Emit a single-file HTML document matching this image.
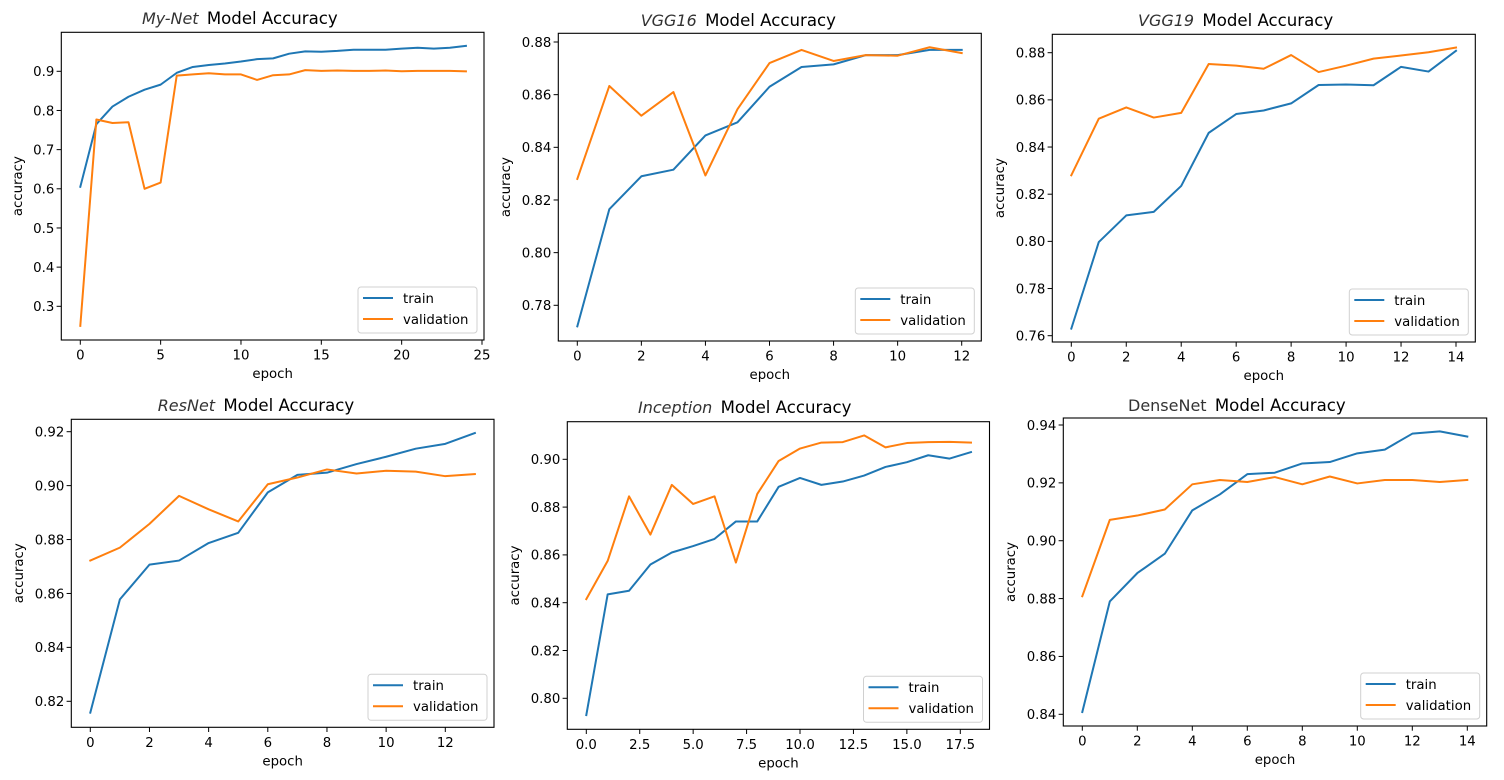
<!DOCTYPE html>
<html><head><meta charset="utf-8"><style>
html,body{margin:0;padding:0;background:#fff;}
svg{display:block;font-family:"DejaVu Sans","Liberation Sans",sans-serif;}
</style></head><body>
<svg id="fig" width="1504" height="780" viewBox="0 0 1504 780" xmlns="http://www.w3.org/2000/svg"></svg>
<script>
// ---- data ----
const mynetTrain=[0.605,0.765,0.81,0.835,0.853,0.866,0.896,0.911,0.916,0.920,0.925,0.931,0.933,0.945,0.951,0.950,0.952,0.955,0.955,0.955,0.958,0.960,0.958,0.960,0.965];
const mynetVal=[0.25,0.777,0.768,0.770,0.600,0.616,0.889,0.892,0.895,0.892,0.892,0.878,0.890,0.892,0.903,0.901,0.902,0.901,0.901,0.902,0.900,0.901,0.901,0.901,0.900];
const vgg16Train=[0.772,0.8165,0.829,0.8315,0.8445,0.8495,0.863,0.8705,0.8715,0.875,0.875,0.877,0.877];
const vgg16Val=[0.828,0.8633,0.852,0.861,0.8293,0.8545,0.872,0.877,0.8728,0.875,0.8748,0.878,0.8758];
const vgg19Train=[0.763,0.7997,0.811,0.8125,0.8235,0.846,0.854,0.8555,0.8585,0.8663,0.8665,0.8662,0.874,0.872,0.8808];
const vgg19Val=[0.828,0.852,0.8568,0.8525,0.8545,0.8752,0.8745,0.8732,0.879,0.8718,0.8745,0.8775,0.8788,0.8802,0.8822];
const resnetTrain=[0.8158,0.8578,0.8707,0.8722,0.8787,0.8825,0.8975,0.904,0.9048,0.908,0.9107,0.9137,0.9155,0.9195];
const resnetVal=[0.8722,0.877,0.8858,0.8962,0.8912,0.8867,0.9005,0.903,0.906,0.9045,0.9055,0.9052,0.9035,0.9043];
const inceptionTrain=[0.793,0.8435,0.845,0.856,0.861,0.8637,0.8667,0.874,0.874,0.8885,0.8922,0.8893,0.8907,0.8932,0.8968,0.8988,0.9017,0.9003,0.903];
const inceptionVal=[0.8415,0.8575,0.8845,0.8685,0.8893,0.8813,0.8845,0.8568,0.8855,0.8993,0.9045,0.907,0.9072,0.910,0.905,0.9068,0.9072,0.9073,0.907];
const densenetTrain=[0.8408,0.879,0.8888,0.8955,0.9105,0.916,0.923,0.9235,0.9267,0.9272,0.9302,0.9315,0.937,0.9378,0.936];
const densenetVal=[0.8808,0.9072,0.9087,0.9108,0.9195,0.921,0.9203,0.922,0.9195,0.9222,0.9198,0.921,0.921,0.9203,0.921];
const modelNames=["My-Net","VGG16","VGG19","ResNet","Inception","DenseNet"];
const mynetYTicks=[0.3,0.4,0.5,0.6,0.7,0.8,0.9];
const mynetXTicks=[0,5,10,15,20,25];
const vgg16YTicks=[0.78,0.80,0.82,0.84,0.86,0.88];
const vgg16XTicks=[0,2,4,6,8,10,12];
const vgg19YTicks=[0.76,0.78,0.80,0.82,0.84,0.86,0.88];
const vgg19XTicks=[0,2,4,6,8,10,12,14];
const resnetYTicks=[0.82,0.84,0.86,0.88,0.90,0.92];
const resnetXTicks=[0,2,4,6,8,10,12];
const inceptionYTicks=[0.80,0.82,0.84,0.86,0.88,0.90];
const inceptionXTicks=[0,2.5,5,7.5,10,12.5,15,17.5];
const densenetYTicks=[0.84,0.86,0.88,0.90,0.92,0.94];
const densenetXTicks=[0,2,4,6,8,10,12,14];

const NS="http://www.w3.org/2000/svg";
const svg=document.getElementById('fig');
function mk(tag,attrs,parent){const e=document.createElementNS(NS,tag);for(const k in attrs)e.setAttribute(k,attrs[k]);(parent||svg).appendChild(e);return e;}

const panels=[
 {key:"mynet",name:modelNames[0],train:mynetTrain,val:mynetVal,yt:mynetYTicks,xt:mynetXTicks,yd:1,xd:0,
  L:61.3,R:484,T:32.3,B:340,xa:[0,25],xp:[80.3,482],ya:[0.9,0.3],yp:[71.3,306.3],tx:142,ty:24,ylx:17},
 {key:"vgg16",name:modelNames[1],train:vgg16Train,val:vgg16Val,yt:vgg16YTicks,xt:vgg16XTicks,yd:2,xd:0,
  L:558.3,R:981.3,T:33.3,B:341,xa:[0,12],xp:[577.3,961.7],ya:[0.88,0.78],yp:[42,305.3],tx:640.7,ty:26,ylx:505},
 {key:"vgg19",name:modelNames[2],train:vgg19Train,val:vgg19Val,yt:vgg19YTicks,xt:vgg19XTicks,yd:2,xd:0,
  L:1052.3,R:1475.3,T:34.3,B:342,xa:[0,14],xp:[1071.3,1456],ya:[0.88,0.76],yp:[52.7,335.7],tx:1138,ty:26,ylx:999},
 {key:"resnet",name:modelNames[3],train:resnetTrain,val:resnetVal,yt:resnetYTicks,xt:resnetXTicks,yd:2,xd:0,
  L:71.3,R:494,T:419.3,B:727.3,xa:[0,12],xp:[90.3,445.3],ya:[0.92,0.82],yp:[431.7,701.3],tx:157.7,ty:411,ylx:18},
 {key:"inception",name:modelNames[4],train:inceptionTrain,val:inceptionVal,yt:inceptionYTicks,xt:inceptionXTicks,yd:2,xd:1,
  L:567.3,R:989.5,T:421.7,B:729.3,xa:[0,17.5],xp:[586.3,960.3],ya:[0.90,0.80],yp:[459.3,698.3],tx:638,ty:413,ylx:514},
 {key:"densenet",name:modelNames[5],train:densenetTrain,val:densenetVal,yt:densenetYTicks,xt:densenetXTicks,yd:2,xd:0,
  L:1063.3,R:1486.7,T:418,B:726,xa:[0,14],xp:[1082.3,1467.3],ya:[0.94,0.84],yp:[425,714.3],tx:1128,ty:411,ylx:1010}
];

panels.forEach(p=>{
  const g=mk('g',{});
  
  
  const X=v=>p.xp[0]+(v-p.xa[0])*(p.xp[1]-p.xp[0])/(p.xa[1]-p.xa[0]);
  const Y=v=>p.yp[0]+(v-p.ya[0])*(p.yp[1]-p.yp[0])/(p.ya[1]-p.ya[0]);
  // title
  const t=mk('text',{x:p.tx,y:p.ty,'font-size':16.6,fill:'#000'},g);
  
  
  const s1=mk('tspan',{'font-style':p.key==='densenet'?'normal':'italic',fill:'#333','font-size':16},t);
  s1.textContent=p.name;
  const s2=mk('tspan',{dx:3},t);s2.textContent=" Model Accuracy";
  // clip
  const cid='clip-'+p.key;
  const cp=mk('clipPath',{id:cid},g);mk('rect',{x:p.L,y:p.T,width:p.R-p.L,height:p.B-p.T},cp);
  // lines
  const series=[[p.train,'#1f77b4','train'],[p.val,'#ff7f0e','validation']];
  series.forEach(([arr,col,nm])=>{
    const d=arr.map((v,i)=>(i?'L':'M')+X(i).toFixed(2)+','+Y(v).toFixed(2)).join(' ');
    const pl=mk('path',{d:d,fill:'none',stroke:col,'stroke-width':2,'stroke-linejoin':'round','stroke-linecap':'square','clip-path':'url(#'+cid+')'},g);
    
    
  });
  // frame
  const fr=mk('rect',{x:p.L,y:p.T,width:p.R-p.L,height:p.B-p.T,fill:'none',stroke:'#000','stroke-width':1.1},g);
  
  
  // y ticks
  p.yt.forEach(v=>{
    const y=Y(v);
    mk('line',{x1:p.L-4.7,x2:p.L,y1:y,y2:y,stroke:'#000','stroke-width':1},g);
    const tl=mk('text',{x:p.L-7,y:y+4.8,'font-size':13.3,'text-anchor':'end',fill:'#000'},g);
    
    
    tl.textContent=v.toFixed(p.yd);
  });
  p.xt.forEach(v=>{
    const x=X(v);
    mk('line',{x1:x,x2:x,y1:p.B,y2:p.B+4.7,stroke:'#000','stroke-width':1},g);
    const tl=mk('text',{x:x,y:p.B+19.5,'font-size':13.3,'text-anchor':'middle',fill:'#000'},g);
    
    
    tl.textContent=v.toFixed(p.xd);
  });
  const xl=mk('text',{x:(p.L+p.R)/2,y:p.B+38,'font-size':13.3,'text-anchor':'middle'},g);
  
  
  xl.textContent='epoch';
  const yc=(p.T+p.B)/2;
  const yl=mk('text',{x:p.ylx+5,y:yc,'font-size':13.3,'text-anchor':'middle',transform:'rotate(-90 '+(p.ylx+5)+' '+yc+')'},g);
  
  
  yl.textContent='accuracy';
  // legend
  const lw=119,lh=46,lx=p.R-7-lw,ly=p.B-7-lh;
  const lg=mk('g',{},g);
  
  
  mk('rect',{x:lx,y:ly,width:lw,height:lh,rx:3,fill:'#fff','fill-opacity':0.8,stroke:'#d0d0d0','stroke-width':1},lg);
  series.forEach(([arr,col,nm],i)=>{
    const yy=ly+11+i*21;
    mk('line',{x1:lx+5,x2:lx+35,y1:yy,y2:yy,stroke:col,'stroke-width':2},lg);
    const et=mk('text',{x:lx+45,y:yy+4.8,'font-size':13.3},lg);
    
    
    et.textContent=nm;
  });
});
</script>
</body></html>
